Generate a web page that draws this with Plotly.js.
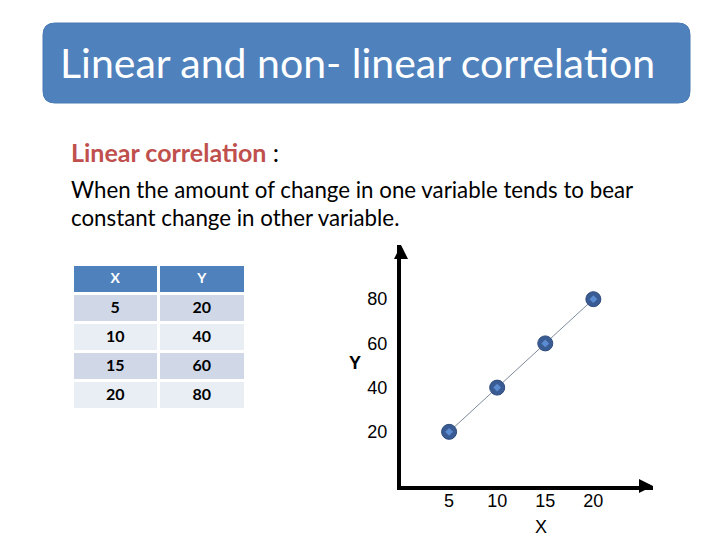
<!DOCTYPE html>
<html>
<head>
<meta charset="utf-8">
<script src="https://cdn.plot.ly/plotly-3.0.1.min.js"></script>
<style>html,body{margin:0;padding:0;background:#fff;}#chart{width:720px;height:540px;}</style>
</head>
<body>
<div id="chart"></div>
<script>
// ---- data ----
const xValues = [5, 10, 15, 20];
const yValues = [20, 40, 60, 80];
const xTickLabels = ['5', '10', '15', '20'];
const yTickLabels = ['20', '40', '60', '80'];
const tableHeader = ['X', 'Y'];
const slideTitle = 'Linear and non- linear correlation';
const subHeading = 'Linear correlation';
const bodyLines = ['When the amount of change in one variable tends to bear',
                   'constant change in other variable.'];
const xAxisTitle = 'X';
const yAxisTitle = 'Y';

// ---- helpers (pixel -> paper) ----
const W = 720, H = 540;
const px = x => x / W;
const py = y => 1 - y / H;
function roundRect(x0, y0, x1, y1, r) {
  const p = (x, y) => px(x) + ',' + py(y);
  return 'M' + p(x0 + r, y0) + ' L' + p(x1 - r, y0) +
    ' Q' + p(x1, y0) + ' ' + p(x1, y0 + r) +
    ' L' + p(x1, y1 - r) + ' Q' + p(x1, y1) + ' ' + p(x1 - r, y1) +
    ' L' + p(x0 + r, y1) + ' Q' + p(x0, y1) + ' ' + p(x0, y1 - r) +
    ' L' + p(x0, y0 + r) + ' Q' + p(x0, y0) + ' ' + p(x0 + r, y0) + ' Z';
}

const txtFont = 'Lato, "Open Sans", sans-serif';
const chartFont = '"Liberation Sans", Arial, sans-serif';

const rowFill = ['#D0D8E8', '#E9EDF4', '#D0D8E8', '#E9EDF4'];

const traces = [
  {
    type: 'table',
    domain: {x: [px(72), px(245)], y: [py(410), py(264)]},
    columnwidth: [1, 1],
    header: {
      values: tableHeader,
      fill: {color: '#4F81BD'},
      line: {color: '#ffffff', width: 3},
      align: 'center',
      height: 29,
      font: {family: txtFont, size: 14, color: '#ffffff', weight: 'bold'}
    },
    cells: {
      values: [xValues, yValues],
      fill: {color: [rowFill, rowFill]},
      line: {color: '#ffffff', width: 3},
      align: 'center',
      height: 29,
      font: {family: txtFont, size: 16, color: '#000000', weight: 'bold'}
    }
  },
  {
    type: 'scatter',
    mode: 'lines+markers',
    x: xValues, y: yValues,
    line: {color: '#7F8A99', width: 1},
    marker: {size: 15, color: '#3A5C94', line: {color: '#2E4B7C', width: 1}},
    showlegend: false, hoverinfo: 'skip'
  },
  {
    type: 'scatter',
    mode: 'markers',
    x: xValues, y: yValues,
    marker: {size: 6, symbol: 'diamond', color: '#5B8BD0'},
    showlegend: false, hoverinfo: 'skip'
  }
];

const layout = {
  width: W, height: H,
  margin: {l: 0, r: 0, t: 0, b: 0},
  paper_bgcolor: '#ffffff',
  plot_bgcolor: 'rgba(0,0,0,0)',
  showlegend: false,
  xaxis: {
    domain: [px(401), px(653)],
    range: [0, 26.2],
    tickvals: xValues, ticktext: xTickLabels,
    showgrid: false, zeroline: false,
    showline: true, linecolor: '#000000', linewidth: 4,
    ticks: '', ticklabelstandoff: -5,
    tickfont: {family: chartFont, size: 18, color: '#000000'},
    fixedrange: true
  },
  yaxis: {
    domain: [py(486), py(245)],
    range: [-4.5, 104.5],
    tickvals: yValues, ticktext: yTickLabels,
    showgrid: false, zeroline: false,
    showline: true, linecolor: '#000000', linewidth: 4,
    ticks: '', ticklabelstandoff: 6,
    tickfont: {family: chartFont, size: 18, color: '#000000'},
    fixedrange: true
  },
  shapes: [
    {type: 'path', xref: 'paper', yref: 'paper', path: roundRect(43, 23, 690, 103, 12),
     fillcolor: '#4F81BD', line: {color: '#4A7AB5', width: 1}, layer: 'below'}
  ],
  annotations: [
    {xref: 'paper', yref: 'paper', x: px(58), y: py(62), xanchor: 'left', yanchor: 'middle',
     text: slideTitle, showarrow: false,
     font: {family: txtFont, size: 41, color: '#ffffff'}},
    {xref: 'paper', yref: 'paper', x: px(69), y: py(152), xanchor: 'left', yanchor: 'middle',
     text: '<b>' + subHeading + '</b><span style="color:#000000"> :</span>', showarrow: false,
     font: {family: txtFont, size: 25, color: '#C0504D'}},
    {xref: 'paper', yref: 'paper', x: px(69), y: py(189), xanchor: 'left', yanchor: 'middle',
     text: bodyLines[0], showarrow: false,
     font: {family: txtFont, size: 22.3, color: '#000000'}},
    {xref: 'paper', yref: 'paper', x: px(69), y: py(218), xanchor: 'left', yanchor: 'middle',
     text: bodyLines[1], showarrow: false,
     font: {family: txtFont, size: 22.3, color: '#000000'}},
    {xref: 'paper', yref: 'paper', x: px(355), y: py(363), xanchor: 'center', yanchor: 'middle',
     text: '<b>' + yAxisTitle + '</b>', showarrow: false,
     font: {family: chartFont, size: 18, color: '#000000'}},
    {xref: 'paper', yref: 'paper', x: px(541), y: py(527), xanchor: 'center', yanchor: 'middle',
     text: xAxisTitle, showarrow: false,
     font: {family: chartFont, size: 18, color: '#000000'}},
    // axis arrowheads
    {xref: 'x domain', yref: 'y domain', x: 1, y: 0, ax: -10, ay: 0, axref: 'pixel', ayref: 'pixel',
     text: '', showarrow: true, arrowhead: 2, arrowsize: 0.7, arrowwidth: 4, arrowcolor: '#000000'},
    {xref: 'x domain', yref: 'y domain', x: 0, y: 1, ax: 0, ay: 10, axref: 'pixel', ayref: 'pixel',
     text: '', showarrow: true, arrowhead: 2, arrowsize: 0.7, arrowwidth: 4, arrowcolor: '#000000'}
  ]
};

Plotly.newPlot('chart', traces, layout, {displayModeBar: false, staticPlot: true});
</script>
</body>
</html>
